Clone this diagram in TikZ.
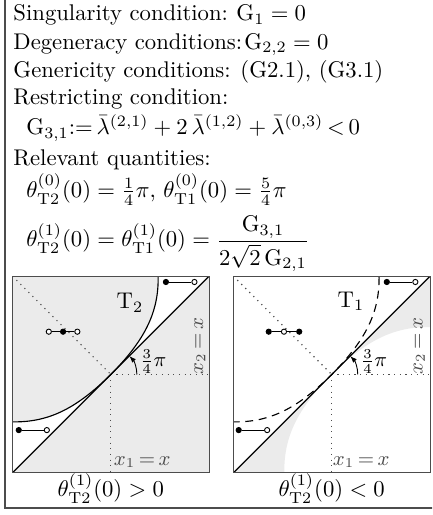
\documentclass[tikz,border=0pt]{standalone}
\usepackage{amsmath}
\usetikzlibrary{arrows.meta}
\definecolor{panelGray}{gray}{0.92}
\definecolor{frameGray}{gray}{0.3}

\begin{document}
\begin{tikzpicture}[x=0.4405pt,y=0.4405pt,
  declare function={tv(\u)=0.17*\u*\u+0.15*\u*\u*\u*\u;},
  txt/.style={anchor=base west,inner sep=0pt},
  panel/.style={draw=frameGray,line width=0.5pt},
  guide/.style={dotted,line width=0.5pt,black!70},
  diag/.style={line width=0.5pt},
  fulldot/.style={circle,fill=black,draw=black,line width=0.4pt,inner sep=0pt,minimum size=2.3pt},
  opendot/.style={circle,fill=white,draw=black,line width=0.4pt,inner sep=0pt,minimum size=2.3pt},
  bar/.style={line width=0.4pt},
  axislabel/.style={font=\small,text=black!70,inner sep=0pt},
  anglearc/.style={line width=0.4pt,-{Latex[length=3pt,width=2.2pt]}}]

\useasboundingbox (0,0) rectangle (432,515);
\clip (0,0) rectangle (432,515);
\draw[frameGray,line width=0.6pt] (5,7) rectangle (436,520);

% conditions
\node[txt] (sing) at (13,494.3) {Singularity condition:};
\node[txt] (singEq) at (236,494.3) {$\mathrm{G}_1=0$};
\node[txt] (deg) at (13,465.7) {Degeneracy conditions:};
\node[txt] (degEq) at (244,465.7) {$\mathrm{G}_{2,2}=0$};
\node[txt] (gen) at (13,437.7) {Genericity conditions:};
\node[txt] (genEq) at (240,437.7) {(G2.1), (G3.1)};
\node[txt] (restr) at (13,410) {Restricting condition:};
\node[txt] (restrEq) at (26,380) {$\mathrm{G}_{3,1}{:=}\,\bar{\lambda}^{(2,1)}+2\,\bar{\lambda}^{(1,2)}+\bar{\lambda}^{(0,3)}\,{<}\,0$};
\node[txt] (rel) at (13,349.3) {Relevant quantities:};
\node[txt] (relA) at (26,317.5) {$\theta^{(0)}_{\mathrm{T2}}(0)=\frac{1}{4}\pi,\,\theta^{(0)}_{\mathrm{T1}}(0)=\frac{5}{4}\pi$};
\node[txt] (relB) at (26,268) {$\theta^{(1)}_{\mathrm{T2}}(0)=\theta^{(1)}_{\mathrm{T1}}(0)=\dfrac{\mathrm{G}_{3,1}}{2\sqrt{2}\,\mathrm{G}_{2,1}}$};

% left panel, T2 solid
\begin{scope}[shift={(110.8,140.5)},x=43.35pt,y=43.35pt]
  \coordinate (lO) at (0,0);
  \coordinate (lSW) at (-1,-1);
  \coordinate (lNE) at (1,1);
  \coordinate (lNW) at (-1,1);
  \coordinate (lE) at (1,0);
  \coordinate (lS) at (0,-1);
  \begin{scope}
    \clip (lSW) rectangle (lNE);
    \fill[panelGray] (lSW) rectangle (lNE);
    \fill[white] plot[domain=-1.6:1.6,samples=90,smooth] ({(\x-tv(\x))/sqrt(2)},{(\x+tv(\x))/sqrt(2)}) -- (1.131,1.131) -- (-1.131,-1.131) -- cycle;
    \draw[guide] (lNW) -- (lO);
    \draw[guide] (lO) -- (lE);
    \draw[guide] (lO) -- (lS);
    \draw[diag] (lSW) -- (lNE);
    \draw[line width=0.5pt] plot[domain=-1.3:1.3,samples=90,smooth] ({(\x-tv(\x))/sqrt(2)},{(\x+tv(\x))/sqrt(2)});
  \end{scope}
  \draw[panel] (lSW) rectangle (lNE);
  \draw[anglearc] (0.265,0) arc[start angle=0,end angle=45,radius=0.265];
  \node[anchor=west,font=\small,inner sep=0pt] (lAng) at (0.29,0.13) {$\frac{3}{4}\pi$};
  \node (lT) at (0.195,0.73) {$\mathrm{T}_2$};
  \node[axislabel,rotate=90] (lX2) at (0.906,0.29) {$x_2\,{=}\,x$};
  \node[axislabel] (lX1) at (0.32,-0.889) {$x_1\,{=}\,x$};
  % dumbbells
  \node[fulldot] (lA1) at (0.56,0.94) {};
  \node[opendot] (lA2) at (0.85,0.94) {};
  \draw[bar] (lA1) -- (lA2);
  \node[opendot] (lB1) at (-0.63,0.435) {};
  \node[fulldot] (lB2) at (-0.485,0.435) {};
  \node[opendot] (lB3) at (-0.34,0.435) {};
  \draw[bar] (lB1) -- (lB2);
  \draw[bar] (lB2) -- (lB3);
  \node[fulldot] (lC1) at (-0.935,-0.565) {};
  \node[opendot] (lC2) at (-0.65,-0.565) {};
  \draw[bar] (lC1) -- (lC2);
\end{scope}

% right panel, T1 dashed
\begin{scope}[shift={(331.7,140.5)},x=43.35pt,y=43.35pt]
  \coordinate (rO) at (0,0);
  \coordinate (rSW) at (-1,-1);
  \coordinate (rNE) at (1,1);
  \coordinate (rNW) at (-1,1);
  \coordinate (rE) at (1,0);
  \coordinate (rS) at (0,-1);
  \begin{scope}
    \clip (rSW) rectangle (rNE);
    \fill[panelGray] plot[domain=-1.6:1.6,samples=90,smooth] ({(\x+tv(\x))/sqrt(2)},{(\x-tv(\x))/sqrt(2)}) -- (1.131,1.131) -- (-1.131,-1.131) -- cycle;
    \draw[guide] (rNW) -- (rO);
    \draw[guide] (rO) -- (rE);
    \draw[guide] (rO) -- (rS);
    \draw[diag] (rSW) -- (rNE);
    \draw[line width=0.5pt,dash pattern=on 3.5pt off 2.5pt] plot[domain=-1.3:1.3,samples=90,smooth] ({(\x-tv(\x))/sqrt(2)},{(\x+tv(\x))/sqrt(2)});
  \end{scope}
  \draw[panel] (rSW) rectangle (rNE);
  \draw[anglearc] (0.265,0) arc[start angle=0,end angle=45,radius=0.265];
  \node[anchor=west,font=\small,inner sep=0pt] (rAng) at (0.29,0.13) {$\frac{3}{4}\pi$};
  \node (rT) at (0.196,0.747) {$\mathrm{T}_1$};
  \node[axislabel,rotate=90] (rX2) at (0.89,0.29) {$x_2\,{=}\,x$};
  \node[axislabel] (rX1) at (0.3,-0.889) {$x_1\,{=}\,x$};
  % dumbbells
  \node[fulldot] (rA1) at (0.56,0.94) {};
  \node[opendot] (rA2) at (0.85,0.94) {};
  \draw[bar] (rA1) -- (rA2);
  \node[fulldot] (rB1) at (-0.64,0.435) {};
  \node[opendot] (rB2) at (-0.485,0.435) {};
  \node[fulldot] (rB3) at (-0.33,0.435) {};
  \draw[bar] (rB1) -- (rB2);
  \draw[bar] (rB2) -- (rB3);
  \node[fulldot] (rC1) at (-0.945,-0.565) {};
  \node[opendot] (rC2) at (-0.656,-0.565) {};
  \draw[bar] (rC1) -- (rC2);
\end{scope}

\node[anchor=base,inner sep=0pt] (signPos) at (110.8,18) {$\theta^{(1)}_{\mathrm{T2}}(0)>0$};
\node[anchor=base,inner sep=0pt] (signNeg) at (331.7,18) {$\theta^{(1)}_{\mathrm{T2}}(0)<0$};
\end{tikzpicture}
\end{document}
